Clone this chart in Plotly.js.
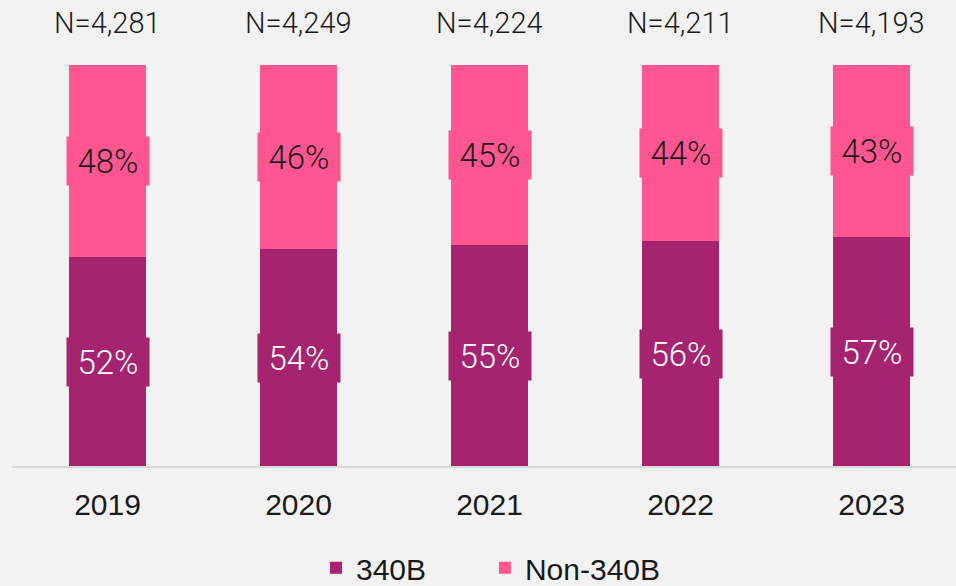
<!DOCTYPE html>
<html>
<head>
<meta charset="utf-8">
<script src="https://cdn.plot.ly/plotly-3.0.1.min.js"></script>
<style>
html,body{margin:0;padding:0;background:#f2f2f2;}
#chart{width:956px;height:586px;}
</style>
</head>
<body>
<div id="chart"></div>
<script>
var years = ['2019', '2020', '2021', '2022', '2023'];
var share340B = [52, 54, 55, 56, 57];
var shareNon340B = [48, 46, 45, 44, 43];
var nLabels = ['N=4,281', 'N=4,249', 'N=4,224', 'N=4,211', 'N=4,193'];
var seriesNames = ['340B', 'Non-340B'];

var colors = ['#A6236F', '#FF5590'];
var labelFont = 'Roboto';
var axisFont = 'Liberation Sans';

var traces = [
  {type: 'bar', name: seriesNames[0], x: years, y: share340B, width: 0.4,
   marker: {color: colors[0]}, hoverinfo: 'skip', legend: 'legend'},
  {type: 'bar', name: seriesNames[1], x: years, y: shareNon340B, width: 0.4,
   marker: {color: colors[1]}, hoverinfo: 'skip', legend: 'legend2'}
];

var annotations = [];
years.forEach(function (yr, i) {
  annotations.push({
    x: i, y: share340B[i] / 2, xref: 'x', yref: 'y',
    text: share340B[i] + '%', showarrow: false,
    font: {family: labelFont, size: 33, color: '#ffffff', weight: 300},
    bgcolor: colors[0], width: 76, height: 42, borderpad: 3
  });
  annotations.push({
    x: i, y: share340B[i] + shareNon340B[i] / 2, xref: 'x', yref: 'y',
    text: shareNon340B[i] + '%', showarrow: false,
    font: {family: labelFont, size: 33, color: '#1a1a1a', weight: 300},
    bgcolor: colors[1], width: 76, height: 42, borderpad: 3
  });
  annotations.push({
    x: i, y: 1, xref: 'x', yref: 'paper', yanchor: 'middle', yshift: 42,
    text: nLabels[i], showarrow: false,
    font: {family: labelFont, size: 29, color: '#1a1a1a', weight: 300}
  });
});

var legendBase = {orientation: 'h', y: -0.254, yanchor: 'middle', xanchor: 'left',
                  font: {family: axisFont, size: 30, color: '#1a1a1a'}, bgcolor: 'rgba(0,0,0,0)'};

var layout = {
  width: 956, height: 586,
  paper_bgcolor: '#f2f2f2', plot_bgcolor: '#f2f2f2',
  margin: {l: 12, r: 0, t: 65, b: 120, autoexpand: false},
  barmode: 'stack',
  showlegend: true,
  legend: Object.assign({}, legendBase, {x: 0.322}),
  legend2: Object.assign({}, legendBase, {x: 0.501}),
  xaxis: {type: 'category', range: [-0.5, 4.442], showline: true, linecolor: '#d9d9d9', linewidth: 2,
          showgrid: false, zeroline: false, ticks: '', ticklabelstandoff: 11,
          tickfont: {family: axisFont, size: 30, color: '#1a1a1a'}},
  yaxis: {range: [0, 100], visible: false, showgrid: false, zeroline: false},
  annotations: annotations,
  font: {family: axisFont}
};

Plotly.newPlot('chart', traces, layout, {displayModeBar: false}).catch(function (e) {
  document.body.insertAdjacentHTML('beforeend', '<pre>' + e + '</pre>');
});
</script>
</body>
</html>
